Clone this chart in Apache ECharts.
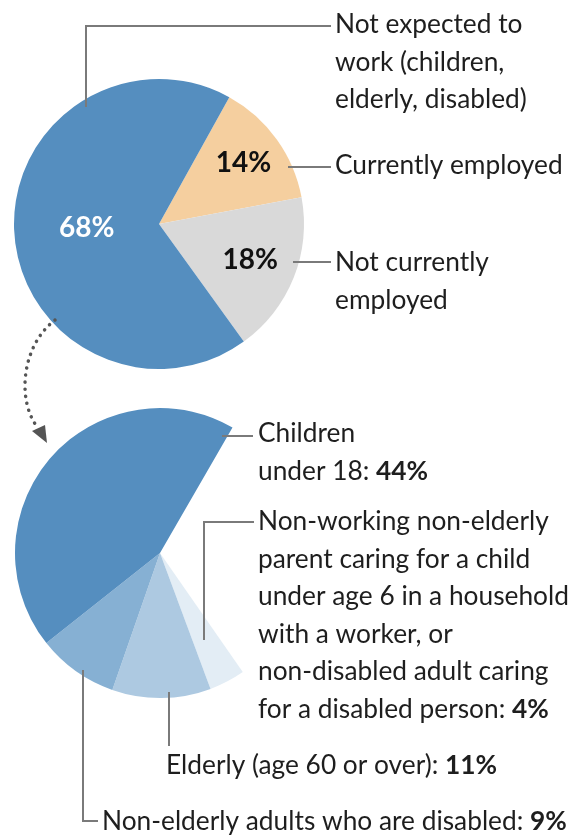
<!DOCTYPE html>
<html>
<head>
<meta charset="utf-8">
<script src="https://cdn.jsdelivr.net/npm/echarts@6/dist/echarts.min.js"></script>
<style>
html,body{margin:0;padding:0;background:#fff;}
#chart{width:580px;height:838px;}
</style>
</head>
<body>
<div id="chart"></div>
<script>
// ---- data ----
const topNames = ['Currently employed', 'Not currently employed', 'Not expected to work'];
const topValues = [14, 18, 68];

const bottomNames = ['Non-working parent or caregiver', 'Elderly (age 60 or over)', 'Non-elderly adults who are disabled', 'Children under 18'];
const bottomValues = [4, 11, 9, 44];

const topCallouts = [
  ['Not expected to', 'work (children,', 'elderly, disabled)'],
  ['Currently employed'],
  ['Not currently', 'employed']
];
const bottomCallouts = [
  ['Children', 'under 18: '],
  ['Non-working non-elderly', 'parent caring for a child', 'under age 6 in a household', 'with a worker, or', 'non-disabled adult caring', 'for a disabled person: '],
  ['Elderly (age 60 or over): '],
  ['Non-elderly adults who are disabled: ']
];
// which bottom value each callout reports
const bottomCalloutValue = [44, 4, 11, 9];

// ---- styles ----
const FONT = 'Lato';
const TXT = '#1e1e1e';
const LINE = '#7a7a7a';
const topColors = ['#f5cf9f', '#d9d9d9', '#558ebf'];
const bottomColors = ['#e3edf5', '#adc9e1', '#86b0d3', '#558ebf'];
const labelPush = [1.38, 1.30, 0.96];
const topCenter = [159, 224];
const bottomCenter = [160, 553];
const R = 145;
const FS = 26.3;
const LH = 37.5;

const chart = echarts.init(document.getElementById('chart'), null, {renderer: 'canvas'});

const bottomTotal = bottomValues.reduce((a, b) => a + b, 0);
const gap = 100 - bottomTotal;

function textBlock(lines, boldTail, x, firstCenterY) {
  const parts = lines.map((l, i) => {
    let s = '{n|' + l + '}';
    if (i === lines.length - 1 && boldTail) s += '{b|' + boldTail + '}';
    return s;
  });
  return {
    type: 'text', x: x, y: firstCenterY - LH / 2, z: 100,
    style: {
      text: parts.join('\n'),
      verticalAlign: 'top', align: 'left',
      rich: {
        n: {fontFamily: FONT, fontSize: FS, fill: TXT, lineHeight: LH},
        b: {fontFamily: FONT, fontSize: FS, fontWeight: 'bold', fill: TXT, lineHeight: LH}
      }
    }
  };
}
function leader(points) {
  return {type: 'polyline', z: 100, shape: {points: points}, style: {stroke: LINE, lineWidth: 2, fill: null}};
}

const graphics = [
  textBlock(topCallouts[0], null, 335, 25),
  textBlock(topCallouts[1], null, 335, 166),
  textBlock(topCallouts[2], null, 335, 263),
  textBlock(bottomCallouts[0], bottomCalloutValue[0] + '%', 258, 434),
  textBlock(bottomCallouts[1], bottomCalloutValue[1] + '%', 258, 522),
  textBlock(bottomCallouts[2], bottomCalloutValue[2] + '%', 166, 766),
  textBlock(bottomCallouts[3], bottomCalloutValue[3] + '%', 102, 822),
  leader([[86, 107], [86, 26], [331, 26]]),
  leader([[288, 167], [331, 167]]),
  leader([[293, 262], [331, 262]]),
  leader([[222, 436], [253, 436]]),
  leader([[204, 640], [204, 522], [254, 522]]),
  leader([[169, 692], [169, 746]]),
  leader([[83, 670], [83, 821], [98, 821]]),
  {
    type: 'bezierCurve', z: 100,
    shape: {x1: 55, y1: 320, cpx1: 22, cpy1: 345, cpx2: 16, cpy2: 400, x2: 38, y2: 428},
    style: {stroke: '#555', lineWidth: 3.5, lineDash: [0.1, 7], lineCap: 'round', fill: null}
  },
  {
    type: 'polygon', z: 100,
    shape: {points: [[32, 431], [47, 443], [45, 425]]},
    style: {fill: '#555'}
  }
];

const option = {
  animation: false,
  backgroundColor: '#fff',
  series: [
    {
      type: 'pie',
      center: topCenter,
      radius: [0, R],
      startAngle: 61,
      clockwise: true,
      silent: true,
      itemStyle: {borderWidth: 0},
      labelLine: {show: false},
      label: {
        show: true, position: 'inside',
        fontFamily: FONT, fontSize: 28, fontWeight: 'bold',
        formatter: p => p.value + '%'
      },
      labelLayout: function (params) {
        const r = params.labelRect;
        const cx = r.x + r.width / 2, cy = r.y + r.height / 2;
        const k = labelPush[params.dataIndex];
        return {
          x: topCenter[0] + (cx - topCenter[0]) * k,
          y: topCenter[1] + (cy - topCenter[1]) * k,
          align: 'center', verticalAlign: 'middle'
        };
      },
      data: topNames.map((n, i) => ({
        name: n, value: topValues[i],
        itemStyle: {color: topColors[i]},
        label: {color: i === 2 ? '#ffffff' : '#111111'}
      }))
    },
    {
      type: 'pie',
      center: bottomCenter,
      radius: [0, R],
      startAngle: -55.2,
      clockwise: true,
      silent: true,
      label: {show: false},
      labelLine: {show: false},
      itemStyle: {borderWidth: 0},
      data: bottomNames.map((n, i) => ({
        name: n, value: bottomValues[i], itemStyle: {color: bottomColors[i]}
      })).concat([{name: 'rest', value: gap, itemStyle: {color: 'rgba(0,0,0,0)'}}])
    }
  ],
  graphic: graphics
};
chart.setOption(option);
</script>
</body>
</html>
